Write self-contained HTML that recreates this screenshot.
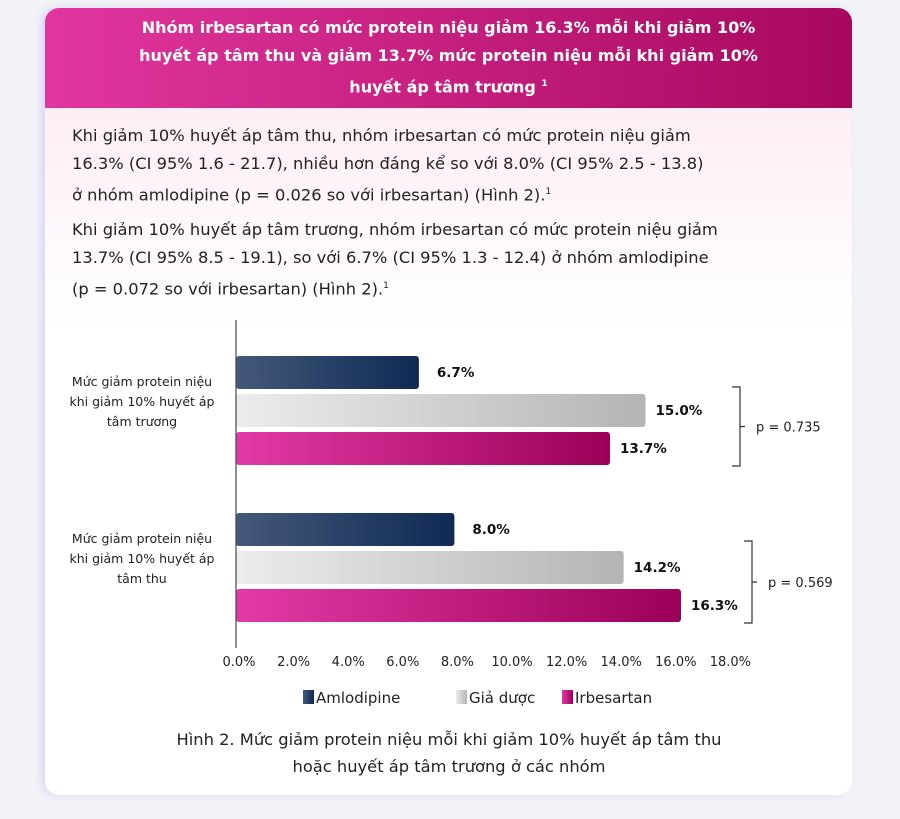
<!DOCTYPE html>
<html><head><meta charset="utf-8"><style>
html,body{margin:0;padding:0;width:900px;height:819px;overflow:hidden;background:#f2f3f7;font-family:"DejaVu Sans","Liberation Sans",sans-serif;}
.card{position:absolute;left:45px;top:8px;width:807px;height:787px;border-radius:14px;background:#fff;overflow:hidden;box-shadow:-4px 0 8px rgba(190,180,240,.45);}
.hdr{position:absolute;left:0;top:0;width:807px;height:100px;background:linear-gradient(90deg,#e2369f,#a7085e);color:#fff;font-weight:bold;font-size:16px;line-height:28px;text-align:center;padding-top:6px;box-sizing:border-box;white-space:nowrap;}
.body{position:absolute;left:0;top:100px;width:807px;height:220px;background:linear-gradient(180deg,#fdeef6,#fff);}
.p{position:absolute;left:27px;width:780px;font-size:16.3px;line-height:28px;color:#222;white-space:nowrap;}
sup{font-size:9px;}
svg{position:absolute;left:0;top:0;}
svg text{font-family:"DejaVu Sans","Liberation Sans",sans-serif;}
</style></head><body>
<div class="card">
<div class="hdr">Nhóm irbesartan có mức protein niệu giảm 16.3% mỗi khi giảm 10%<br>huyết áp tâm thu và giảm 13.7% mức protein niệu mỗi khi giảm 10%<br>huyết áp tâm trương <sup>1</sup></div>
<div class="body"></div>
<div class="p" style="top:114px">Khi giảm 10% huyết áp tâm thu, nhóm irbesartan có mức protein niệu giảm<br>16.3% (CI 95% 1.6 - 21.7), nhiều hơn đáng kể so với 8.0% (CI 95% 2.5 - 13.8)<br>ở nhóm amlodipine (p = 0.026 so với irbesartan) (Hình 2).<sup>1</sup></div>
<div class="p" style="top:208px">Khi giảm 10% huyết áp tâm trương, nhóm irbesartan có mức protein niệu giảm<br>13.7% (CI 95% 8.5 - 19.1), so với 6.7% (CI 95% 1.3 - 12.4) ở nhóm amlodipine<br>(p = 0.072 so với irbesartan) (Hình 2).<sup>1</sup></div>
</div>
<svg id="chart" width="900" height="819">
<defs>
<linearGradient id="gA" x1="0" x2="1"><stop offset="0" stop-color="#44587a"/><stop offset="1" stop-color="#0f2a54"/></linearGradient>
<linearGradient id="gP" x1="0" x2="1"><stop offset="0" stop-color="#ececec"/><stop offset="1" stop-color="#b4b4b4"/></linearGradient>
<linearGradient id="gI" x1="0" x2="1"><stop offset="0" stop-color="#e23aa6"/><stop offset="1" stop-color="#9c0058"/></linearGradient>
</defs>
</svg>
<script>
const categories=["Mức giảm protein niệu|khi giảm 10% huyết áp|tâm trương","Mức giảm protein niệu|khi giảm 10% huyết áp|tâm thu"];
const amlodipine=[6.7,8.0];
const placebo=[15.0,14.2];
const irbesartan=[13.7,16.3];
const ticks=[0,2,4,6,8,10,12,14,16,18];
const pValues=["p = 0.735","p = 0.569"];
const seriesNames=["Amlodipine","Giả dược","Irbesartan"];
const NS="http://www.w3.org/2000/svg";
const svg=document.getElementById('chart');
const x0=236,ppu=27.3;
const xs=v=>x0+v*ppu;
const groupTop=[356,513];
function mk(t,a,txt){const e=document.createElementNS(NS,t);for(const k in a)e.setAttribute(k,a[k]);if(txt!=null)e.textContent=txt;svg.appendChild(e);return e;}
const series=[amlodipine,placebo,irbesartan],fills=["url(#gA)","url(#gP)","url(#gI)"],offs=[0,38,76];
categories.forEach((c,g)=>{
  const lines=c.split("|");
  lines.forEach((l,i)=>{const t=mk('text',{x:142,y:groupTop[g]+30+i*20,'text-anchor':'middle','font-size':12.5,fill:'#222'},l);
  
  });
  series.forEach((s,k)=>{
    const y=groupTop[g]+offs[k];
    const r=mk('rect',{x:x0,y:y,width:xs(s[g])-x0,height:33,rx:3,fill:fills[k]});
    
    
    const t=mk('text',{x:xs(s[g])+(k==0?18:10),y:y+21,'font-size':13.5,'font-weight':'bold',fill:'#111'},s[g].toFixed(1)+'%');
    
    
  });
  const bx=g==0?740:752, by1=groupTop[g]+(g==0?31:28), by2=groupTop[g]+110;
  const p=mk('path',{d:`M${bx-8},${by1}H${bx}V${by2}H${bx-8}M${bx},${(by1+by2)/2}H${bx+5}`,stroke:'#333','stroke-width':1.2,fill:'none'});
  
  
  const pt=mk('text',{x:bx+16,y:(by1+by2)/2+5,'font-size':13,fill:'#222'},pValues[g]);
  
  
});
const ax=mk('line',{x1:x0,y1:320,x2:x0,y2:648,stroke:'#444','stroke-width':1.2});


ticks.forEach(v=>{const t=mk('text',{x:xs(v)+3,y:666,'text-anchor':'middle','font-size':13,fill:'#222'},v.toFixed(1)+'%');

});
const lx=[303,456,562];
seriesNames.forEach((n,k)=>{
  const r=mk('rect',{x:lx[k],y:690,width:11,height:14,fill:fills[k]});
  
  
  const t=mk('text',{x:lx[k]+13,y:703,'font-size':15,fill:'#222'},n);
  
  
});
const c1=mk('text',{x:449,y:745,'text-anchor':'middle','font-size':16.3,fill:'#222'},'Hình 2. Mức giảm protein niệu mỗi khi giảm 10% huyết áp tâm thu');


const c2=mk('text',{x:449,y:772,'text-anchor':'middle','font-size':16.3,fill:'#222'},'hoặc huyết áp tâm trương ở các nhóm');


</script>
</body></html>
